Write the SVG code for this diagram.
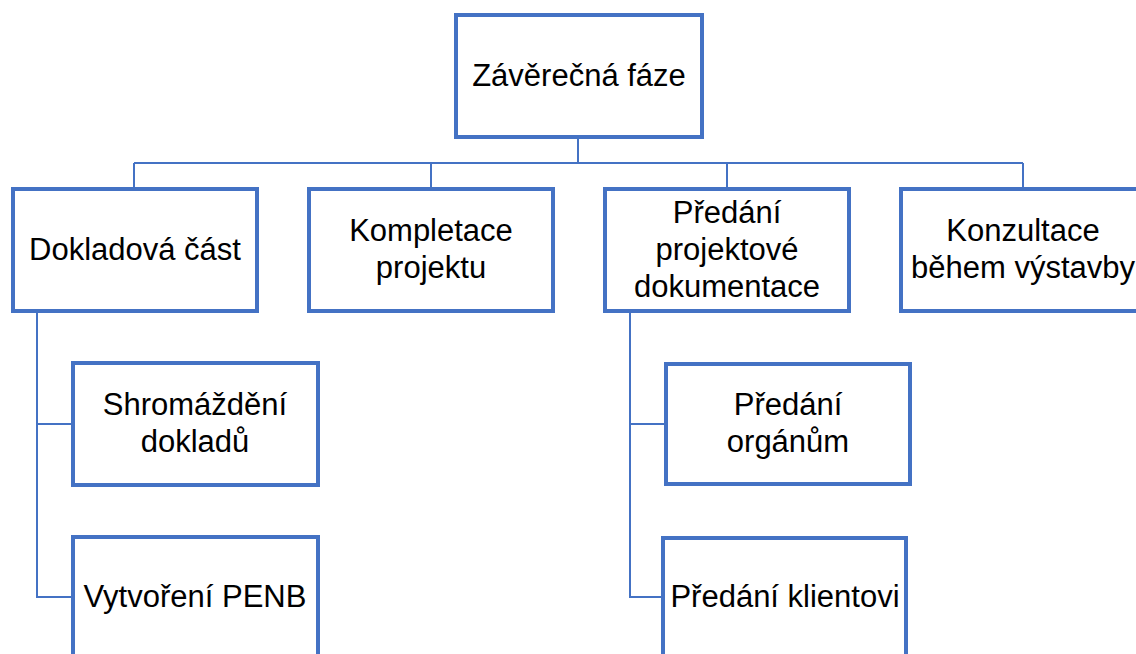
<svg xmlns="http://www.w3.org/2000/svg" width="1136" height="654" viewBox="0 0 1136 654">
  <style>
    .box { fill: #ffffff; stroke: #4472C4; stroke-width: 4; }
    .lbl { font-family: "Liberation Sans", Arial, sans-serif; font-size: 31px; fill: #000000; text-anchor: middle; }
    .conn { fill: none; stroke: #4472C4; stroke-width: 2; }
  </style>
  <rect width="1136" height="654" fill="#ffffff"/>

  <!-- connectors -->
  <g id="connectors" class="conn">
    <path d="M578 139 V163"/>
    <path d="M134 163 H1023"/>
    <path d="M134 163 V187"/>
    <path d="M431 163 V187"/>
    <path d="M727 163 V187"/>
    <path d="M1023 163 V187"/>
    <path d="M37 313 V597 H71"/>
    <path d="M37 424 H71"/>
    <path d="M630 313 V597 H661"/>
    <path d="M630 424 H664"/>
  </g>

  <g id="root">
    <rect class="box" x="456" y="15" width="246" height="122"/>
    <text class="lbl" x="579" y="86">Závěrečná fáze</text>
  </g>

  <g id="dokladova">
    <rect class="box" x="13" y="189" width="244" height="122"/>
    <text class="lbl" x="135" y="260">Dokladová část</text>
  </g>

  <g id="kompletace">
    <rect class="box" x="309" y="189" width="244" height="122"/>
    <text class="lbl" x="431" y="241">Kompletace</text>
    <text class="lbl" x="431" y="278">projektu</text>
  </g>

  <g id="predani-dokumentace">
    <rect class="box" x="605" y="189" width="244" height="122"/>
    <text class="lbl" x="727" y="223">Předání</text>
    <text class="lbl" x="727" y="260">projektové</text>
    <text class="lbl" x="727" y="297">dokumentace</text>
  </g>

  <g id="konzultace">
    <rect class="box" x="901" y="189" width="244" height="122"/>
    <text class="lbl" x="1023" y="241">Konzultace</text>
    <text class="lbl" x="1023" y="278">během výstavby</text>
  </g>

  <g id="shromazdeni">
    <rect class="box" x="73" y="363" width="245" height="122"/>
    <text class="lbl" x="195" y="415">Shromáždění</text>
    <text class="lbl" x="195" y="452">dokladů</text>
  </g>

  <g id="penb">
    <rect class="box" x="73" y="537" width="245" height="122"/>
    <text class="lbl" x="195" y="607">Vytvoření PENB</text>
  </g>

  <g id="organum">
    <rect class="box" x="666" y="364" width="244" height="120"/>
    <text class="lbl" x="788" y="415">Předání</text>
    <text class="lbl" x="788" y="452">orgánům</text>
  </g>

  <g id="klientovi">
    <rect class="box" x="663" y="538" width="243" height="122"/>
    <text class="lbl" x="785" y="607">Předání klientovi</text>
  </g>
</svg>
